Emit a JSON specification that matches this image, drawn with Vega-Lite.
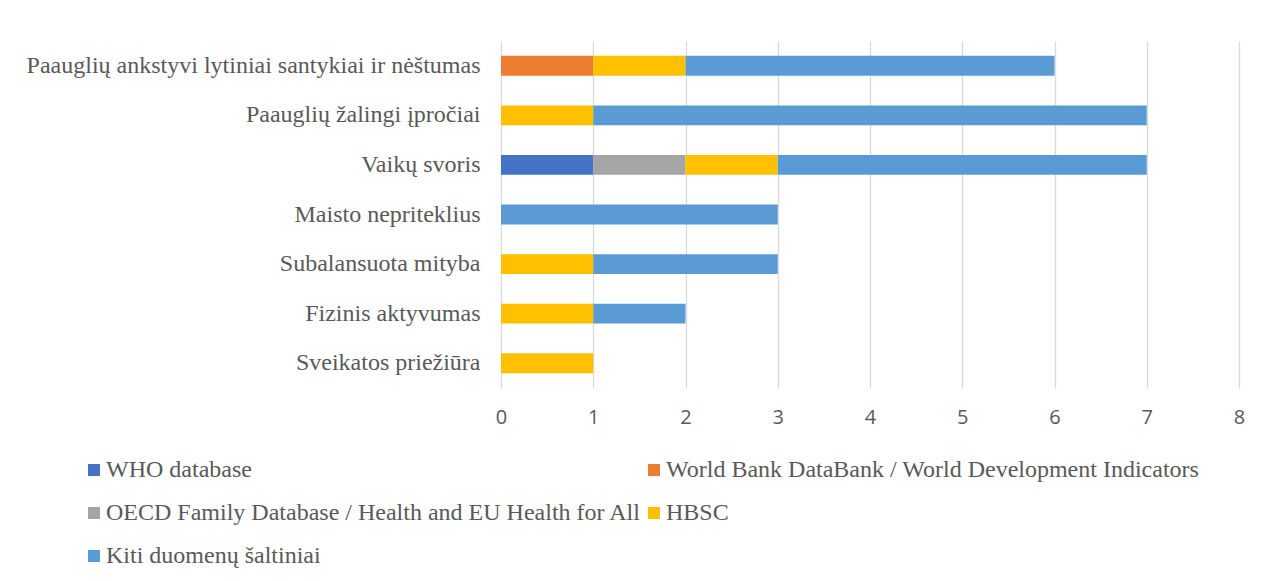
{
  "$schema": "https://vega.github.io/schema/vega-lite/v6.json",
  "width": 738,
  "height": 347,
  "autosize": {"type": "none"},
  "padding": {"left": 501, "top": 41, "right": 26, "bottom": 193},
  "background": "white",
  "config": {"view": {"stroke": null}},
  "data": {
    "values": [
      {"cat": "Paauglių ankstyvi lytiniai santykiai ir nėštumas", "src": "World Bank DataBank / World Development Indicators", "idx": 2, "n": 1},
      {"cat": "Paauglių ankstyvi lytiniai santykiai ir nėštumas", "src": "HBSC", "idx": 4, "n": 1},
      {"cat": "Paauglių ankstyvi lytiniai santykiai ir nėštumas", "src": "Kiti duomenų šaltiniai", "idx": 5, "n": 4},
      {"cat": "Paauglių žalingi įpročiai\u00a0", "src": "HBSC", "idx": 4, "n": 1},
      {"cat": "Paauglių žalingi įpročiai\u00a0", "src": "Kiti duomenų šaltiniai", "idx": 5, "n": 6},
      {"cat": "Vaikų svoris", "src": "WHO database", "idx": 1, "n": 1},
      {"cat": "Vaikų svoris", "src": "OECD Family Database / Health and EU Health for All", "idx": 3, "n": 1},
      {"cat": "Vaikų svoris", "src": "HBSC", "idx": 4, "n": 1},
      {"cat": "Vaikų svoris", "src": "Kiti duomenų šaltiniai", "idx": 5, "n": 4},
      {"cat": "Maisto nepriteklius", "src": "Kiti duomenų šaltiniai", "idx": 5, "n": 3},
      {"cat": "Subalansuota mityba", "src": "HBSC", "idx": 4, "n": 1},
      {"cat": "Subalansuota mityba", "src": "Kiti duomenų šaltiniai", "idx": 5, "n": 2},
      {"cat": "Fizinis aktyvumas", "src": "HBSC", "idx": 4, "n": 1},
      {"cat": "Fizinis aktyvumas", "src": "Kiti duomenų šaltiniai", "idx": 5, "n": 1},
      {"cat": "Sveikatos priežiūra", "src": "HBSC", "idx": 4, "n": 1}
    ]
  },
  "mark": {"type": "bar"},
  "encoding": {
    "y": {
      "field": "cat",
      "type": "nominal",
      "sort": ["Paauglių ankstyvi lytiniai santykiai ir nėštumas", "Paauglių žalingi įpročiai\u00a0", "Vaikų svoris", "Maisto nepriteklius", "Subalansuota mityba", "Fizinis aktyvumas", "Sveikatos priežiūra"],
      "scale": {"paddingInner": 0.6, "paddingOuter": 0.3},
      "axis": {
        "title": null,
        "domain": false,
        "ticks": false,
        "grid": false,
        "labelFont": "Liberation Serif",
        "labelFontSize": 24,
        "labelColor": "#595959",
        "labelPadding": 21,
        "labelLimit": 600
      }
    },
    "x": {
      "field": "n",
      "type": "quantitative",
      "stack": "zero",
      "scale": {"domain": [0, 8], "nice": false},
      "axis": {
        "title": null,
        "values": [0, 1, 2, 3, 4, 5, 6, 7, 8],
        "domain": false,
        "ticks": false,
        "grid": true,
        "gridColor": "#D9D9D9",
        "gridWidth": 1.3,
        "labelFont": "Open Sans",
        "labelFontSize": 20,
        "labelColor": "#595959",
        "labelPadding": 19,
        "labelFlush": false
      }
    },
    "order": {"field": "idx", "type": "quantitative"},
    "color": {
      "field": "src",
      "type": "nominal",
      "scale": {
        "domain": ["WHO database", "OECD Family Database / Health and EU Health for All", "Kiti duomenų šaltiniai", "World Bank DataBank / World Development Indicators", "HBSC"],
        "range": ["#4472C4", "#A5A5A5", "#5B9BD5", "#ED7D31", "#FFC000"]
      },
      "legend": {
        "title": null,
        "orient": "none",
        "legendX": -419,
        "legendY": 417,
        "padding": 0,
        "columns": 2,
        "columnPadding": -5,
        "rowPadding": 19,
        "symbolType": "square",
        "symbolSize": 144,
        "symbolStrokeWidth": 0,
        "labelFont": "Liberation Serif",
        "labelFontSize": 24,
        "labelColor": "#595959",
        "labelOffset": 0,
        "labelLimit": 800
      }
    }
  }
}
